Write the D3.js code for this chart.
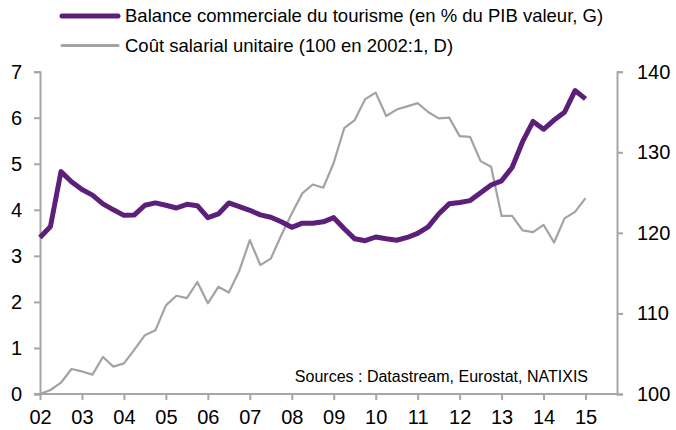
<!DOCTYPE html>
<html><head><meta charset="utf-8">
<script src="https://cdn.jsdelivr.net/npm/d3@7"></script>
<style>body{margin:0;background:#fff;} text{font-family:"Liberation Sans",Arial,sans-serif;fill:#000;}</style>
</head><body><svg id="c" width="676" height="430"></svg>
<script>
const startYear = 2002;
const yearTicks = ["02","03","04","05","06","07","08","09","10","11","12","13","14","15"];
const leftTicks = [0,1,2,3,4,5,6,7];
const rightTicks = [100,110,120,130,140];
// Quarterly, 2002Q1 .. 2015Q1
const balance = [3.40,3.64,4.83,4.61,4.44,4.32,4.13,4.00,3.88,3.89,4.10,4.15,4.10,4.04,4.12,4.09,3.83,3.91,4.15,4.07,
  3.99,3.89,3.84,3.74,3.62,3.71,3.71,3.74,3.83,3.59,3.37,3.33,3.41,3.37,3.34,3.40,3.49,3.63,3.91,4.13,
  4.16,4.20,4.37,4.54,4.63,4.92,5.48,5.92,5.75,5.95,6.12,6.59,6.41];
const costIndex = [100.0,100.5,101.4,103.1,102.8,102.4,104.6,103.4,103.8,105.5,107.3,107.9,111.0,112.2,111.9,113.9,111.25,113.3,112.6,115.3,
  119.1,116.0,116.8,119.7,122.4,124.9,126.0,125.6,128.7,133.0,134.0,136.6,137.4,134.5,135.3,135.7,136.1,135.0,134.2,134.3,
  132.0,131.9,128.9,128.2,122.1,122.1,120.3,120.1,121.0,118.8,121.8,122.6,124.3];
const legendLabels = ["Balance commerciale du tourisme (en % du PIB valeur, G)","Coût salarial unitaire (100 en 2002:1, D)"];
const sourceText = "Sources : Datastream, Eurostat, NATIXIS";

const svg = d3.select("#c");
const axisColor = "#a6a6a6", purple = "#5c1f7a", grey = "#a3a3a3";
const x = d3.scaleLinear().domain([2002, 2015.75]).range([40, 617]);
const yL = d3.scaleLinear().domain([0,7]).range([394, 71.7]);
const yR = d3.scaleLinear().domain([100,140]).range([394, 71.7]);
const tq = i => startYear + i/4;

function styleAxis(g){
  g.select(".domain").attr("stroke", axisColor).attr("stroke-width", 2);
  g.selectAll(".tick line").attr("stroke", axisColor).attr("stroke-width", 2);
  g.selectAll(".tick text").attr("font-size", 20).attr("font-family", "Liberation Sans, Arial, sans-serif").attr("fill","#000");
}
const gx = svg.append("g").attr("transform","translate(0,394)")
  .call(d3.axisBottom(x).tickValues(yearTicks.map((d,i)=>startYear+i)).tickFormat((d,i)=>yearTicks[i]).tickSize(6).tickSizeOuter(0).tickPadding(10));
styleAxis(gx);
gx.select(".domain").attr("d","M34,0H617");
const gl = svg.append("g").attr("transform","translate(40,0)")
  .call(d3.axisLeft(yL).tickValues(leftTicks).tickFormat(d3.format("d")).tickSize(6).tickSizeOuter(6).tickPadding(12));
styleAxis(gl);
const gr = svg.append("g").attr("transform","translate(617,0)")
  .call(d3.axisRight(yR).tickValues(rightTicks).tickFormat(d3.format("d")).tickSize(6).tickSizeOuter(6).tickPadding(14));
styleAxis(gr);

svg.append("path").datum(costIndex)
  .attr("d", d3.line().x((d,i)=>x(tq(i))).y(d=>yR(d)))
  .attr("fill","none").attr("stroke",grey).attr("stroke-width",2.2).attr("stroke-linejoin","round");
svg.append("path").datum(balance)
  .attr("d", d3.line().x((d,i)=>x(tq(i))).y(d=>yL(d)))
  .attr("fill","none").attr("stroke",purple).attr("stroke-width",5).attr("stroke-linejoin","round");

const leg = svg.append("g");
[[purple,5],[grey,3]].forEach((s,i)=>{
  const yy = 16 + i*29.5;
  leg.append("line").attr("x1",62).attr("x2",118).attr("y1",yy).attr("y2",yy)
    .attr("stroke",s[0]).attr("stroke-width",s[1]).attr("stroke-linecap","round");
  leg.append("text").attr("x",125).attr("y",yy).attr("dy","0.35em").attr("font-size",18.5).text(legendLabels[i]);
});

svg.append("text").attr("x",588).attr("y",382).attr("text-anchor","end").attr("font-size",16).text(sourceText);
</script></body></html>
